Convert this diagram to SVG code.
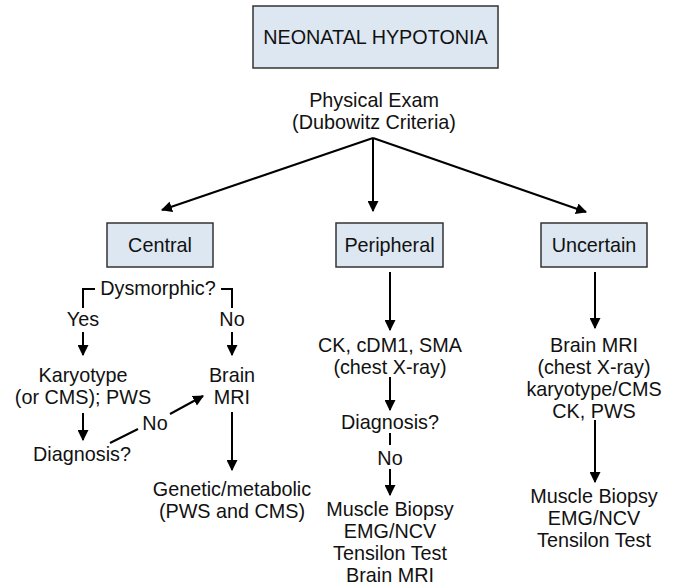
<svg xmlns="http://www.w3.org/2000/svg" width="675" height="585" viewBox="0 0 675 585">
<style>
text{font-family:"Liberation Sans",Arial,Helvetica,sans-serif;font-size:19.8px;fill:#111;text-anchor:middle}
.box{fill:#dde7f1;stroke:#333;stroke-width:1.5}
.ln{fill:none;stroke:#000;stroke-width:2}
.ar{fill:none;stroke:#000;stroke-width:2;marker-end:url(#ah)}
</style>
<defs>
<marker id="ah" viewBox="0 0 10 10" refX="9" refY="5" markerWidth="5.5" markerHeight="5.5" orient="auto" markerUnits="strokeWidth">
<path d="M0,0 L10,5 L0,10 z" fill="#000"/>
</marker>
</defs>
<rect width="675" height="585" fill="#fff"/>
<g id="connectors">
<line class="ar" x1="373" y1="138" x2="162" y2="210"/>
<line class="ar" x1="373" y1="138" x2="373" y2="211"/>
<line class="ar" x1="373" y1="138" x2="586" y2="212"/>
<polyline class="ln" points="95,289 83,289 83,308"/>
<line class="ar" x1="83" y1="332" x2="83" y2="355"/>
<polyline class="ln" points="221,289 232,289 232,308"/>
<line class="ar" x1="232" y1="332" x2="232" y2="355"/>
<line class="ar" x1="83" y1="413" x2="83" y2="440"/>
<line class="ln" x1="110" y1="443" x2="138" y2="429"/>
<line class="ar" x1="170" y1="414" x2="203" y2="396"/>
<line class="ar" x1="232" y1="412" x2="232" y2="470"/>
<line class="ar" x1="390" y1="272" x2="390" y2="330"/>
<line class="ar" x1="390" y1="377" x2="390" y2="410"/>
<line class="ln" x1="390" y1="433" x2="390" y2="445"/>
<line class="ar" x1="390" y1="469" x2="390" y2="495"/>
<line class="ar" x1="595" y1="272" x2="595" y2="328"/>
<line class="ar" x1="595" y1="420" x2="595" y2="482"/>
</g>
<g id="title">
<rect class="box" x="253" y="6" width="245" height="62"/>
<text x="375.5" y="44">NEONATAL HYPOTONIA</text>
</g>
<g id="exam">
<text x="374" y="107">Physical Exam</text>
<text x="374" y="129">(Dubowitz Criteria)</text>
</g>
<g id="central">
<rect class="box" x="107" y="223" width="106" height="44"/>
<text x="160" y="252">Central</text>
</g>
<g id="peripheral">
<rect class="box" x="336" y="223" width="107" height="44"/>
<text x="389.5" y="252">Peripheral</text>
</g>
<g id="uncertain">
<rect class="box" x="541" y="223" width="106" height="44"/>
<text x="594" y="252">Uncertain</text>
</g>
<g id="dysmorphic"><text x="158" y="295">Dysmorphic?</text></g>
<g id="yes"><text x="83" y="326">Yes</text></g>
<g id="no1"><text x="232" y="326">No</text></g>
<g id="karyotype">
<text x="83" y="382">Karyotype</text>
<text x="83" y="404">(or CMS); PWS</text>
</g>
<g id="brainmri1">
<text x="232" y="382">Brain</text>
<text x="232" y="404">MRI</text>
</g>
<g id="diag1"><text x="82" y="461">Diagnosis?</text></g>
<g id="no2"><text x="155" y="430">No</text></g>
<g id="genetic">
<text x="232" y="496">Genetic/metabolic</text>
<text x="232" y="518">(PWS and CMS)</text>
</g>
<g id="ck">
<text x="390" y="352">CK, cDM1, SMA</text>
<text x="390" y="374">(chest X-ray)</text>
</g>
<g id="diag2"><text x="390" y="429">Diagnosis?</text></g>
<g id="no3"><text x="390" y="465">No</text></g>
<g id="periph-tests">
<text x="390" y="516">Muscle Biopsy</text>
<text x="390" y="538">EMG/NCV</text>
<text x="390" y="560">Tensilon Test</text>
<text x="390" y="582">Brain MRI</text>
</g>
<g id="uncertain-tests1">
<text x="594" y="352">Brain MRI</text>
<text x="594" y="374">(chest X-ray)</text>
<text x="594" y="396">karyotype/CMS</text>
<text x="594" y="418">CK, PWS</text>
</g>
<g id="uncertain-tests2">
<text x="594" y="503">Muscle Biopsy</text>
<text x="594" y="525">EMG/NCV</text>
<text x="594" y="547">Tensilon Test</text>
</g>
</svg>
